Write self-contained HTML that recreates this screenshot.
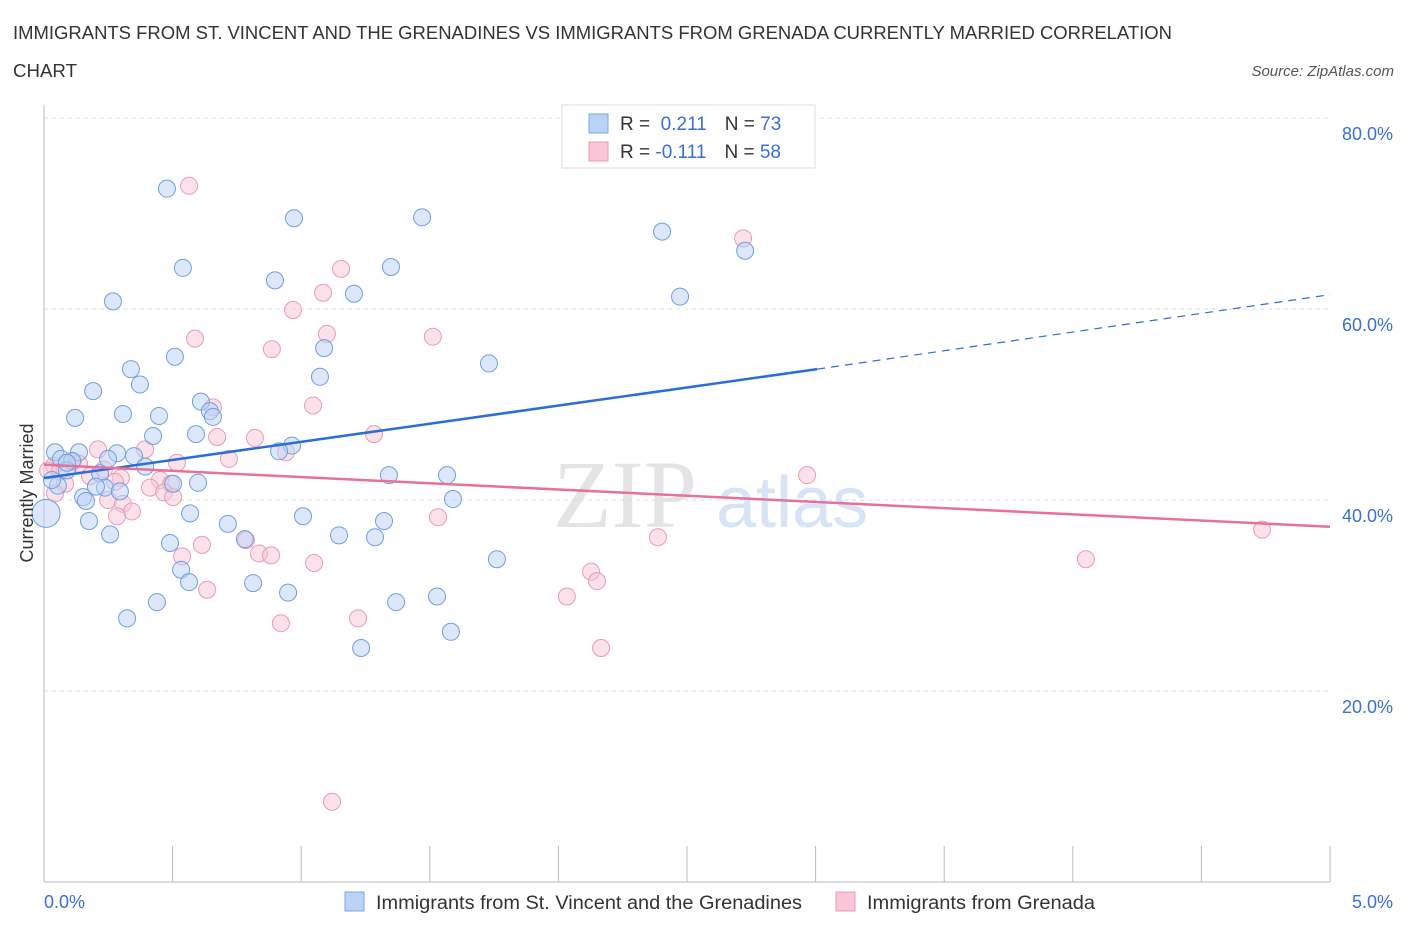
<!DOCTYPE html>
<html><head><meta charset="utf-8"><style>
body{margin:0;background:#fff;font-family:"Liberation Sans",sans-serif}
</style></head><body>
<svg id="chart" width="1406" height="930" xmlns="http://www.w3.org/2000/svg" style="display:block">
<text x="13" y="39" font-size="18" fill="#333" textLength="1159" lengthAdjust="spacingAndGlyphs">IMMIGRANTS FROM ST. VINCENT AND THE GRENADINES VS IMMIGRANTS FROM GRENADA CURRENTLY MARRIED CORRELATION</text>
<text x="13" y="77" font-size="18" fill="#333" textLength="64" lengthAdjust="spacingAndGlyphs">CHART</text>
<text x="1394" y="76" font-size="15" fill="#555" text-anchor="end" font-style="italic">Source: ZipAtlas.com</text>
<text x="553" y="527" font-size="96" fill="#e4e4e4" font-family="Liberation Serif,serif">ZIP</text>
<text x="716" y="527" font-size="72" fill="#d6e4f5">atlas</text>
<g id="grid"></g><g id="axes"></g><g id="pts"></g><g id="trend"></g>
<text transform="translate(33,493) rotate(-90)" font-size="18" fill="#333" text-anchor="middle">Currently Married</text>
<g>
<rect x="562" y="105" width="253" height="63" fill="#fff" stroke="#ddd"/>
<rect x="589" y="114" width="19" height="19" fill="#b9d2f5" stroke="#7aa6e6"/>
<rect x="589" y="142" width="19" height="19" fill="#f8c6d6" stroke="#ec9ab5"/>
<text x="620" y="130" font-size="19" fill="#333">R = <tspan fill="#3b6fd1">&#160;0.211</tspan><tspan dx="18">N = </tspan><tspan fill="#3b6fd1">73</tspan></text>
<text x="620" y="158" font-size="19" fill="#333">R = <tspan fill="#3b6fd1">-0.111</tspan><tspan dx="18">N = </tspan><tspan fill="#3b6fd1">58</tspan></text>
</g>
<g>
<rect x="345" y="892" width="19" height="19" fill="#b9d2f5" stroke="#7aa6e6"/>
<text x="376" y="909" font-size="19" fill="#333" textLength="426" lengthAdjust="spacingAndGlyphs">Immigrants from St. Vincent and the Grenadines</text>
<rect x="836" y="892" width="19" height="19" fill="#f8c6d6" stroke="#ec9ab5"/>
<text x="867" y="909" font-size="19" fill="#333" textLength="228" lengthAdjust="spacingAndGlyphs">Immigrants from Grenada</text>
</g>
</svg>
<script>
const xTicks=[0,0.5,1,1.5,2,2.5,3,3.5,4,4.5,5];
const yTicks=[20,40,60,80];
const yTickLabels=["20.0%","40.0%","60.0%","80.0%"];
const xLabels=["0.0%","5.0%"];
const blueX=[0.478,0.972,1.470,2.403,2.726,0.540,0.898,1.349,1.205,0.268,2.473,1.089,0.509,1.730,0.338,1.073,0.373,0.191,0.610,0.307,0.447,0.645,0.657,0.121,0.424,0.591,0.964,0.914,0.043,0.136,0.284,0.350,0.066,0.109,0.393,0.089,0.218,1.341,1.567,0.599,0.502,0.054,0.237,0.202,0.295,0.152,0.163,1.590,0.008,0.568,1.007,0.175,0.715,1.322,0.257,1.147,1.287,0.781,0.490,1.761,0.533,0.564,0.813,0.949,0.439,1.369,1.528,0.323,1.582,1.233,0.089,0.249,0.031];
const blueY=[72.6,69.5,69.6,68.1,66.1,64.3,63.0,64.4,61.6,60.8,61.3,55.9,55.0,54.3,53.7,52.9,52.1,51.4,50.3,49.0,48.8,49.3,48.7,48.6,46.7,46.9,45.7,45.1,45.0,45.0,44.9,44.6,44.3,44.1,43.5,43.1,42.8,42.6,42.6,41.8,41.7,41.5,41.3,41.4,40.9,40.3,39.9,40.1,38.6,38.6,38.3,37.8,37.5,37.8,36.4,36.3,36.1,35.9,35.5,33.8,32.7,31.4,31.3,30.3,29.3,29.3,29.9,27.6,26.2,24.5,43.9,44.3,42.1];
const pinkX=[0.564,2.718,1.155,1.085,0.968,0.587,1.100,1.512,0.886,1.046,0.657,1.283,0.673,0.820,0.210,0.393,0.941,0.719,0.517,0.113,0.039,0.233,2.967,0.179,0.299,0.451,0.082,0.276,0.494,0.412,0.467,0.043,0.502,0.249,0.307,0.342,0.284,1.532,0.785,2.387,0.614,0.537,0.836,0.883,1.050,4.051,4.736,2.127,2.150,0.634,2.033,1.221,0.921,2.166,1.120,0.016,0.062,0.136];
const pinkY=[72.9,67.4,64.2,61.7,59.9,56.9,57.4,57.1,55.8,49.9,49.7,46.9,46.6,46.5,45.3,45.3,45.0,44.3,43.9,44.0,43.6,43.2,42.6,42.5,42.3,42.1,41.7,41.9,41.7,41.3,40.8,40.7,40.3,40.0,39.6,38.8,38.3,38.2,35.8,36.1,35.3,34.1,34.4,34.2,33.4,33.8,36.9,32.5,31.5,30.6,29.9,27.6,27.1,24.5,8.4,43.1,43.0,43.8];
const blueTrend=[42.3,53.7,61.5]; // at x=0, 3.006, 5
const pinkTrend=[43.7,37.2]; // at x=0, 5
const NS="http://www.w3.org/2000/svg";
const sx=v=>44+v/5*1286, sy=v=>882-v*9.55;
function mk(t,a,p){const e=document.createElementNS(NS,t);for(const k in a)e.setAttribute(k,a[k]);p.appendChild(e);return e;}
const grid=document.getElementById('grid'),axes=document.getElementById('axes'),pts=document.getElementById('pts'),tr=document.getElementById('trend');
yTicks.forEach((v,i)=>{
 const l=mk('line',{x1:44,x2:1330,y1:sy(v),y2:sy(v),stroke:'#ddd','stroke-dasharray':'4,4'},grid);
 
 
 const t=mk('text',{x:1393,y:sy(v)+22,'font-size':18,fill:'#3b6fd1','text-anchor':'end'},axes);
 t.textContent=yTickLabels[i];
 
 
});
mk('line',{x1:44,x2:44,y1:105,y2:882,stroke:'#bbb'},axes);
mk('line',{x1:44,x2:1330,y1:882,y2:882,stroke:'#bbb'},axes);
xTicks.forEach(v=>{const l=mk('line',{x1:sx(v),x2:sx(v),y1:846,y2:882,stroke:'#bbb'},axes);
 
 });
[[0,'start',44],[5,'end',1393]].forEach((d,i)=>{const t=mk('text',{x:d[2],y:908,'font-size':18,fill:'#3b6fd1','text-anchor':d[1]},axes);t.textContent=xLabels[i];
 
 });
function dots(X,Y,fill,stroke,name){X.forEach((x,i)=>{const r=(x<0.02&&Y[i]<39)?14:8.5;
 const c=mk('circle',{cx:sx(x),cy:sy(Y[i]),r:r,fill:fill,'fill-opacity':0.5,stroke:stroke,'stroke-width':1},pts);
 
 });}
dots(pinkX,pinkY,'#f8c6d6','#ec9ab5','grenada-point');
dots(blueX,blueY,'#b9d2f5','#6f9ee3','st-vincent-point');
const b1=mk('line',{x1:sx(0),y1:sy(blueTrend[0]),x2:sx(3.006),y2:sy(blueTrend[1]),stroke:'#2b6fd6','stroke-width':2.5},tr);


const b2=mk('line',{x1:sx(3.006),y1:sy(blueTrend[1]),x2:sx(5),y2:sy(blueTrend[2]),stroke:'#2b6fd6','stroke-width':1.2,'stroke-dasharray':'8,6'},tr);


const p1=mk('line',{x1:sx(0),y1:sy(pinkTrend[0]),x2:sx(5),y2:sy(pinkTrend[1]),stroke:'#e8719a','stroke-width':2.5},tr);


</script>
</body></html>
